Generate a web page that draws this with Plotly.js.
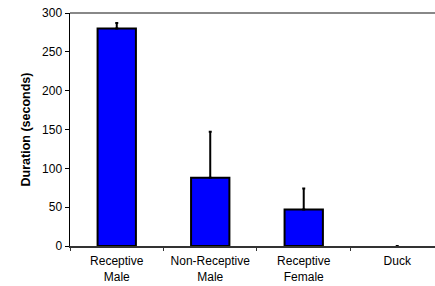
<!DOCTYPE html>
<html><head><meta charset="utf-8">
<script src="https://cdn.plot.ly/plotly-3.0.1.min.js"></script>
<style>html,body{margin:0;padding:0;background:#fff;}#chart{width:435px;height:286px;}</style>
</head><body><div id="chart"></div>
<script>
const categories = ["Receptive<br>Male", "Non-Receptive<br>Male", "Receptive<br>Female", "Duck"];
const durations = [280, 88, 47, 0];
const errorsUp = [7, 59, 27, 0];
const yTicks = [0, 50, 100, 150, 200, 250, 300];

const trace = {
  type: "bar",
  x: categories,
  y: durations,
  width: 0.41,
  marker: {color: "#0000ff", line: {color: "#000", width: durations.map(v => v > 0 ? 2 : 0)}},
  error_y: {type: "data", symmetric: false, array: errorsUp, arrayminus: durations.map(() => 0), color: "#000", thickness: 2, width: 1.5},
  hoverinfo: "none"
};

const layout = {
  width: 435, height: 286,
  margin: {l: 70, r: 0, t: 13, b: 40},
  paper_bgcolor: "#fff", plot_bgcolor: "#fff",
  font: {family: "Liberation Sans, Arial, sans-serif", size: 12, color: "#000"},
  showlegend: false,
  xaxis: {
    type: "category",
    range: [-0.5, 3.404],
    showline: true, linecolor: "#333", linewidth: 1.5,
    ticks: "outside", tickson: "boundaries", ticklen: 3, tickcolor: "#333",
    ticklabelstandoff: 3,
    showgrid: false, zeroline: false,
    tickfont: {size: 12, family: "Liberation Sans, Arial, sans-serif", color: "#000"}
  },
  yaxis: {
    range: [0, 300],
    tickvals: yTicks,
    showline: true, linecolor: "#000", linewidth: 1.5,
    ticks: "outside", ticklen: 4, tickcolor: "#000",
    showgrid: false, zeroline: false,
    tickfont: {size: 12},
    title: {text: "Duration (seconds)", font: {size: 12.5, family: "Liberation Sans, Arial, sans-serif", weight: "bold"}, standoff: 8}
  },
  shapes: [{type: "line", xref: "paper", yref: "paper", x0: 0, x1: 1, y0: 1, y1: 1, line: {color: "#888", width: 2}}]
};

Plotly.newPlot("chart", [trace], layout, {displayModeBar: false, staticPlot: true});
</script></body></html>
